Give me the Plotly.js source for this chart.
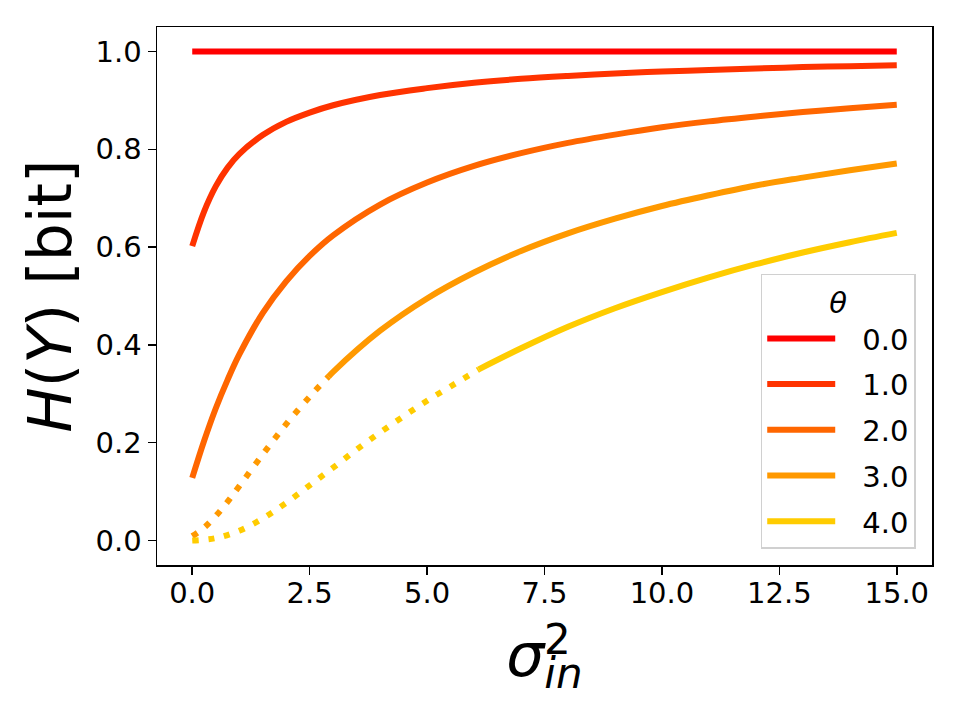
<!DOCTYPE html>
<html>
<head>
<meta charset="utf-8">
<script src="https://cdn.plot.ly/plotly-3.0.1.min.js"></script>
<style>
  html, body { margin: 0; padding: 0; background: #ffffff; }
  #chart { width: 960px; height: 720px; }
</style>
</head>
<body>
<div id="chart"></div>
<script>
// Output entropy H(Y) versus input variance sigma_in^2 for several thresholds theta.
var thetaLabels = ['0.0', '1.0', '2.0', '3.0', '4.0'];
var thetaColors = ['#ff0000', '#ff3300', '#ff6600', '#ff9900', '#ffcc00'];

// theta = 0
var sigma2_t0 = [0, 15];
var H_t0 = [1.0, 1.0];

// theta = 1
var sigma2_t1 = [0, 0.25, 0.5, 0.75, 1, 1.5, 2, 2.5, 3, 4, 5, 6, 7, 8, 9, 10, 11, 12, 13, 14, 15];
var H_t1 = [0.602, 0.672, 0.724, 0.762, 0.790, 0.829, 0.856, 0.875, 0.890, 0.911, 0.925, 0.936,
            0.944, 0.950, 0.955, 0.959, 0.962, 0.965, 0.968, 0.970, 0.972];

// theta = 2
var sigma2_t2 = [0, 0.25, 0.5, 0.75, 1, 1.5, 2, 2.5, 3, 4, 5, 6, 7, 8, 9, 10, 11, 12, 13, 14, 15];
var H_t2 = [0.128, 0.203, 0.270, 0.328, 0.380, 0.465, 0.530, 0.582, 0.624, 0.687, 0.732, 0.766,
            0.792, 0.813, 0.830, 0.845, 0.857, 0.867, 0.876, 0.884, 0.891];

// theta = 3 (dotted low-variance part, then solid)
var sigma2_t3_dot = [0, 0.25, 0.5, 0.75, 1, 1.5, 2, 2.5, 2.9];
var H_t3_dot = [0.009, 0.026, 0.050, 0.079, 0.111, 0.176, 0.238, 0.294, 0.335];
var sigma2_t3 = [2.9, 3, 4, 5, 6, 7, 8, 9, 10, 11, 12, 13, 14, 15];
var H_t3 = [0.335, 0.345, 0.429, 0.495, 0.548, 0.592, 0.628, 0.658, 0.684, 0.706, 0.726, 0.742,
            0.757, 0.771];

// theta = 4 (dotted low-variance part, then solid)
var sigma2_t4_dot = [0, 0.5, 1, 1.5, 2, 2.5, 3, 3.5, 4, 4.5, 5, 5.5, 6.1];
var H_t4_dot = [0.000, 0.005, 0.020, 0.045, 0.077, 0.113, 0.149, 0.186, 0.221, 0.254, 0.286, 0.315, 0.350];
var sigma2_t4 = [6.1, 7, 8, 9, 10, 11, 12, 13, 14, 15];
var H_t4 = [0.350, 0.393, 0.437, 0.475, 0.508, 0.538, 0.565, 0.589, 0.610, 0.629];

var xTickVals = [0, 2.5, 5, 7.5, 10, 12.5, 15];
var xTickText = ['0.0', '2.5', '5.0', '7.5', '10.0', '12.5', '15.0'];
var yTickVals = [0, 0.2, 0.4, 0.6, 0.8, 1.0];
var yTickText = ['0.0', '0.2', '0.4', '0.6', '0.8', '1.0'];

var LW = 6;
var FONT = 'DejaVu Sans, Liberation Sans, sans-serif';

function solid(x, y, i) {
  return {
    x: x, y: y, type: 'scatter', mode: 'lines',
    name: thetaLabels[i], legendgroup: 'g' + i, showlegend: true,
    line: { color: thetaColors[i], width: LW, shape: 'spline', smoothing: 1 }
  };
}
function dotted(x, y, i) {
  return {
    x: x, y: y, type: 'scatter', mode: 'lines',
    name: thetaLabels[i], legendgroup: 'g' + i, showlegend: false,
    line: { color: thetaColors[i], width: LW, dash: '6px,10px', shape: 'spline', smoothing: 1 }
  };
}

var traces = [
  solid(sigma2_t0, H_t0, 0),
  solid(sigma2_t1, H_t1, 1),
  solid(sigma2_t2, H_t2, 2),
  solid(sigma2_t3, H_t3, 3),
  solid(sigma2_t4, H_t4, 4),
  dotted(sigma2_t3_dot, H_t3_dot, 3),
  dotted(sigma2_t4_dot, H_t4_dot, 4)
];

var layout = {
  width: 960, height: 720,
  margin: { l: 157, r: 28, t: 27, b: 155 },
  paper_bgcolor: '#ffffff', plot_bgcolor: '#ffffff',
  font: { family: FONT, color: '#000000', size: 29 },
  showlegend: true,
  xaxis: {
    range: [-0.75, 15.75],
    tickmode: 'array', tickvals: xTickVals, ticktext: xTickText,
    ticks: 'outside', ticklen: 8, tickwidth: 1.5, tickcolor: '#000',
    showline: true, linecolor: '#000', linewidth: 1.5, mirror: true,
    showgrid: false, zeroline: false,
    tickfont: { size: 29, family: FONT }, ticklabelstandoff: -6,
    title: { text: '<i>σ</i><sub><i>in</i></sub>', font: { size: 60, family: FONT }, standoff: 24 }
  },
  yaxis: {
    range: [-0.05, 1.05],
    tickmode: 'array', tickvals: yTickVals, ticktext: yTickText,
    ticks: 'outside', ticklen: 8, tickwidth: 1.5, tickcolor: '#000',
    showline: true, linecolor: '#000', linewidth: 1.5, mirror: true,
    showgrid: false, zeroline: false,
    tickfont: { size: 29, family: FONT },
    title: { text: '<i>H</i>(<i>Y</i>) [bit]', font: { size: 60, family: FONT }, standoff: 4 }
  },
  legend: {
    x: 0.979, y: 0.030, xanchor: 'right', yanchor: 'bottom',
    bgcolor: 'rgba(255,255,255,0.8)', bordercolor: '#d0d0d0', borderwidth: 1.5,
    font: { size: 29, family: FONT },
    title: { text: '<i>θ</i>', side: 'top center', font: { size: 29, family: FONT } },
    tracegroupgap: 5, itemwidth: 90, traceorder: 'grouped'
  },
  annotations: [
    { text: '2', xref: 'paper', yref: 'paper', x: 0.517, y: -0.139,
      xanchor: 'center', yanchor: 'middle', showarrow: false,
      font: { size: 42, family: FONT, color: '#000' } }
  ]
};

Plotly.newPlot('chart', traces, layout, { staticPlot: true, displayModeBar: false }).then(function (gd) {
  // shorter legend line samples, leaving a gap before the labels
  gd.querySelectorAll('.legendlines path').forEach(function (p) {
    var d = p.getAttribute('d') || '';
    p.setAttribute('d', d.replace(/h[\d.]+/, 'h68'));
  });
});
</script>
</body>
</html>
